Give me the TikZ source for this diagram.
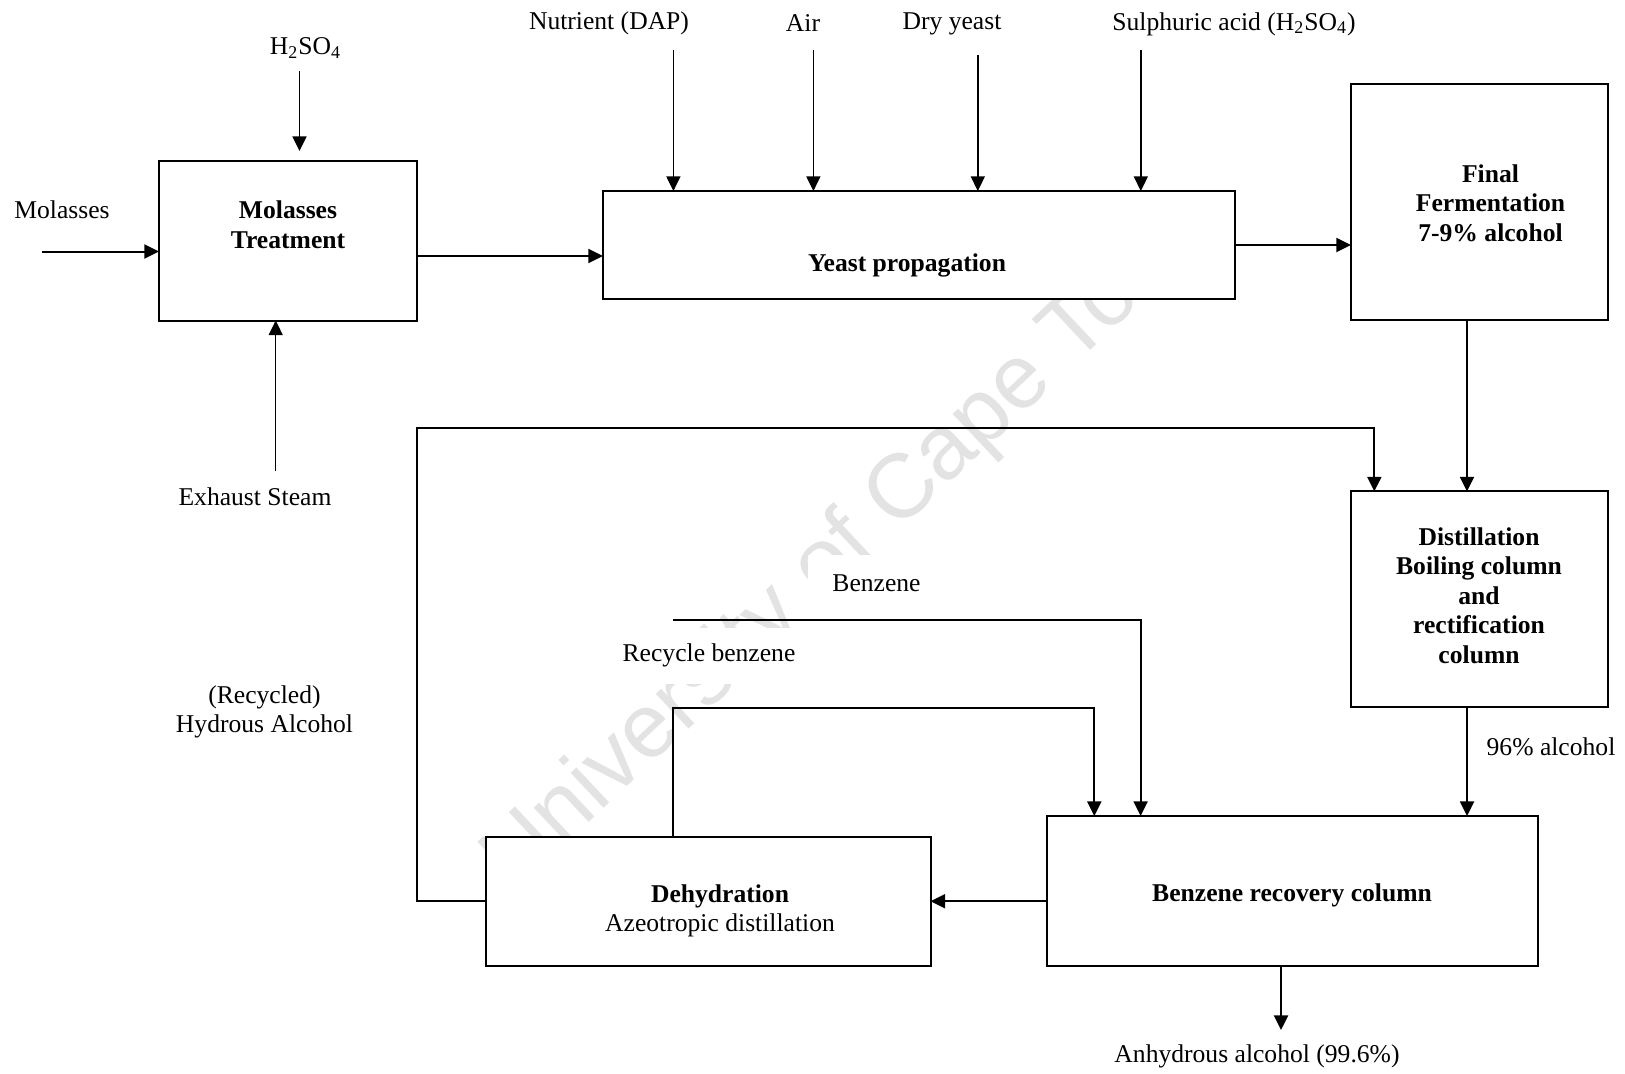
\documentclass[tikz,border=0pt]{standalone}
\usepackage{fontspec}
\setmainfont{Liberation Serif}
\newfontfamily\wmfont{Liberation Sans}
\usetikzlibrary{arrows.meta,calc}

\begin{document}
\begin{tikzpicture}[x=0.5pt,y=-0.5pt,
  every node/.style={font=\fontsize{12.8}{14.8}\selectfont, inner sep=0pt, outer sep=0pt},
  boxnode/.style={draw, line width=1pt, fill=white},
  boxtext/.style={align=center, font=\fontsize{12.8}{14.8}\selectfont\bfseries},
  lbl/.style={align=center},
  padlbl/.style={fill=white, inner xsep=12pt, minimum height=28pt},
  wm/.style={font=\wmfont\fontsize{45.4}{50}\selectfont, text=black!11},
  arr/.style={-{Triangle[length=7.3pt,width=7pt]}, line width=1pt},
  inarr/.style={arr, line width=0.75pt}
]
\useasboundingbox (0,0) rectangle (1625,1073);

% watermark, drawn first so boxes and labels sit on top of it
\node[wm, rotate=43.25, anchor=base west] (wmark) at (515,892) {University of Cape Town};

% process boxes
\node[boxnode, minimum width=128.75pt, minimum height=79.75pt] (mt) at (287.75,240.75) {};
\node[boxnode, minimum width=315.75pt, minimum height=54pt] (yp) at (918.75,245) {};
\node[boxnode, minimum width=128.5pt, minimum height=118.25pt] (ff) at (1479.5,201.75) {};
\node[boxnode, minimum width=128.5pt, minimum height=108pt] (dc) at (1479,599.4) {};
\node[boxnode, minimum width=222.25pt, minimum height=64.75pt] (dh) at (708.25,901.25) {};
\node[boxnode, minimum width=245.5pt, minimum height=75pt] (br) at (1292.5,891) {};

% box captions
\node[boxtext] (mtT) at (288,224.5) {Molasses\\Treatment};
\node[boxtext] (ypT) at (907,265.5) {Yeast propagation};
\node[boxtext] (ffT) at (1490.5,203) {Final\\Fermentation\\7-9\% alcohol};
\node[boxtext] (dcT) at (1479,595.5) {Distillation\\Boiling column\\and\\rectification\\column};
\node[lbl] (dhT) at (720,911) {\textbf{Dehydration}\\Azeotropic distillation};
\node[boxtext] (brT) at (1292,895) {Benzene recovery column};

% stream labels
\node[lbl] (molL) at (62,209.5) {Molasses};
\node[lbl] (h2L) at (305.5,48) {H\textsubscript{2}SO\textsubscript{4}};
\node[lbl] (nutL) at (609,23) {Nutrient (DAP)};
\node[lbl] (airL) at (803,23) {Air};
\node[lbl] (dyL) at (952,24) {Dry yeast};
\node[lbl] (saL) at (1234,24) {Sulphuric acid (H\textsubscript{2}SO\textsubscript{4})};
\node[lbl] (exL) at (255,497) {Exhaust Steam};
\node[lbl] (hydL) at (264.5,712) {(Recycled)\\Hydrous Alcohol};
\node[lbl] (alc96L) at (1551,747) {96\% alcohol};
\node[lbl] (anhL) at (1257,1056) {Anhydrous alcohol (99.6\%)};

% free ends of feed lines
\coordinate (molIn) at (42,251.5);
\coordinate (h2Top) at (299.5,71);
\coordinate (exBot) at (275.7,471);
\coordinate (nutTop) at (673.4,50);
\coordinate (airTop) at (813.4,50);
\coordinate (dyTop) at (977.8,55);
\coordinate (saTop) at (1140.8,50);
\coordinate (mainX) at (1467,0);
\coordinate (loopTL) at (416.6,427.5);
\coordinate (loopTR) at (1374.3,427.5);
\coordinate (bzStart) at (672.5,619.5);
\coordinate (bzCorner) at (1140.6,619.5);
\coordinate (rbLeft) at (672.5,708.3);
\coordinate (rbRight) at (1094.3,708.3);
\coordinate (anhTip) at (1281,1030);

% labels that blank out the watermark behind them
\node[lbl, padlbl] (bzL) at (876.5,583) {Benzene};
\node[lbl, padlbl] (rbL) at (709,655.5) {Recycle benzene};

% feeds into molasses treatment
\draw[arr] (molIn) -- (molIn -| mt.west);
\draw[inarr] (h2Top) -- ($(h2Top |- mt.north)+(0,-10)$);
\draw[inarr] (exBot) -- (exBot |- mt.south);

% main line
\draw[arr] ($(mt.east)+(0,15.25)$) coordinate (mtOut) -- (mtOut -| yp.west);
\draw[inarr] (nutTop) -- (nutTop |- yp.north);
\draw[inarr] (airTop) -- (airTop |- yp.north);
\draw[inarr] (dyTop) -- (dyTop |- yp.north);
\draw[inarr] (saTop) -- (saTop |- yp.north);
\draw[arr] (yp.east) -- (yp.east -| ff.west);
\draw[arr] (mainX |- ff.south) -- (mainX |- dc.north);
\draw[arr] (mainX |- dc.south) -- (mainX |- br.north);

% dehydration section
\draw[arr] (br.west |- dh.east) -- (dh.east);
\draw[arr] (anhTip |- br.south) -- (anhTip);
\draw[arr] (bzStart) -- (bzCorner) -- (bzCorner |- br.north);
\draw[arr] (rbLeft |- dh.north) -- (rbLeft) -- (rbRight) -- (rbRight |- br.north);

% hydrous alcohol recycle to distillation
\draw[arr] (dh.west) -- (dh.west -| loopTL) -- (loopTL) -- (loopTR) -- (loopTR |- dc.north);
\end{tikzpicture}
\end{document}
